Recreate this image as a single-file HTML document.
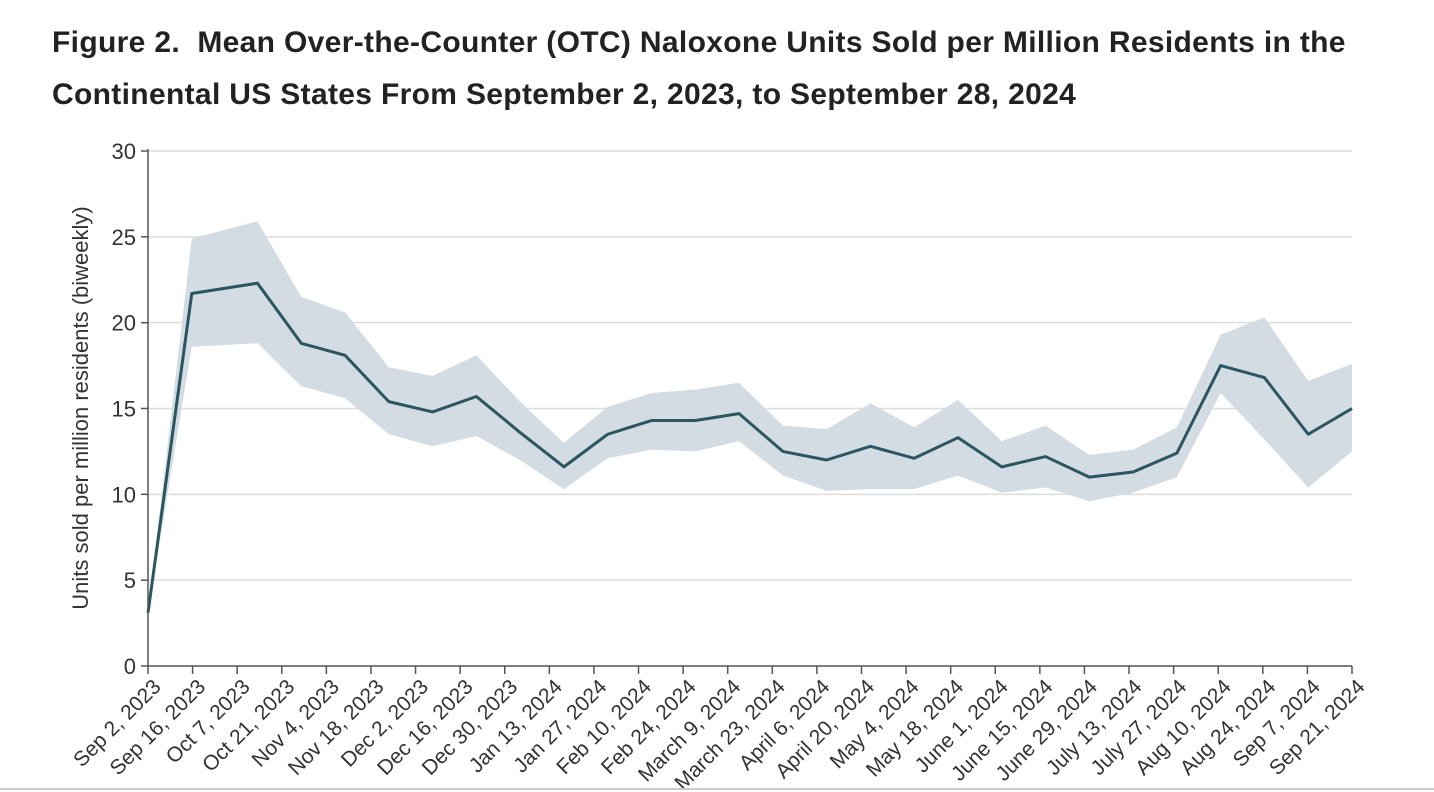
<!DOCTYPE html>
<html><head><meta charset="utf-8"><style>
body{margin:0;background:#fff;width:1434px;height:792px;overflow:hidden;font-family:"Liberation Sans",sans-serif}
h1{position:absolute;left:52px;top:17px;margin:0;font-size:30px;line-height:52px;font-weight:bold;color:#222;letter-spacing:0.33px;white-space:nowrap}
</style></head><body>
<h1>Figure 2.&nbsp; Mean Over-the-Counter (OTC) Naloxone Units Sold per Million Residents in the<br>Continental US States From September 2, 2023, to September 28, 2024</h1>
<svg id="c" width="1434" height="792" style="position:absolute;left:0;top:0"></svg>
<script>
const tickLabels=["Sep 2, 2023","Sep 16, 2023","Oct 7, 2023","Oct 21, 2023","Nov 4, 2023","Nov 18, 2023","Dec 2, 2023","Dec 16, 2023","Dec 30, 2023","Jan 13, 2024","Jan 27, 2024","Feb 10, 2024","Feb 24, 2024","March 9, 2024","March 23, 2024","April 6, 2024","April 20, 2024","May 4, 2024","May 18, 2024","June 1, 2024","June 15, 2024","June 29, 2024","July 13, 2024","July 27, 2024","Aug 10, 2024","Aug 24, 2024","Sep 7, 2024","Sep 21, 2024"];
const days=[0,14,35,49,63,77,91,105,119,133,147,161,175,189,203,217,231,245,259,273,287,301,315,329,343,357,371,385];
const mean=[3.1,21.7,22.3,18.8,18.1,15.4,14.8,15.7,13.6,11.6,13.5,14.3,14.3,14.7,12.5,12.0,12.8,12.1,13.3,11.6,12.2,11.0,11.3,12.4,17.5,16.8,13.5,15.0];
const upper=[3.1,24.9,25.9,21.5,20.6,17.4,16.9,18.1,15.4,13.0,15.1,15.9,16.1,16.5,14.0,13.8,15.3,13.9,15.5,13.1,14.0,12.3,12.6,13.9,19.3,20.3,16.6,17.6];
const lower=[3.1,18.6,18.8,16.3,15.6,13.5,12.8,13.4,12.0,10.3,12.1,12.6,12.5,13.1,11.1,10.2,10.3,10.3,11.1,10.1,10.4,9.6,10.1,11.0,15.9,13.2,10.4,12.5];
const yTicks=[0,5,10,15,20,25,30];
const X0=148,X1=1352,Y0=666,Y1=151;
const xd=d=>X0+(X1-X0)*d/385;
const xi=i=>X0+(X1-X0)*i/(tickLabels.length-1);
const y=v=>Y0-(Y0-Y1)*v/30;
const s=document.getElementById('c');const NS='http://www.w3.org/2000/svg';
function mk(t,a){const e=document.createElementNS(NS,t);for(const k in a)e.setAttribute(k,a[k]);s.appendChild(e);return e;}
yTicks.forEach(v=>{
 if(v>0){const g=mk('line',{x1:X0,x2:X1,y1:y(v),y2:y(v),stroke:'#dcdcdc','stroke-width':1.5});
 
 }
 const t=mk('line',{x1:X0-7,x2:X0,y1:y(v),y2:y(v),stroke:'#555','stroke-width':1.5});
 
 
 const l=mk('text',{x:X0-12,y:y(v)+8,'text-anchor':'end','font-size':22,fill:'#333'});l.textContent=v;
 
 
});
let d='';days.forEach((dd,i)=>d+=(i?'L':'M')+xd(dd)+','+y(upper[i]));
for(let i=days.length-1;i>=0;i--)d+='L'+xd(days[i])+','+y(lower[i]);
const band=mk('path',{d:d+'Z',fill:'#d3dce3'});


let p='';days.forEach((dd,i)=>p+=(i?'L':'M')+xd(dd)+','+y(mean[i]));
const line=mk('path',{d:p,fill:'none',stroke:'#2b5560','stroke-width':3,'stroke-linejoin':'round'});


const ya=mk('line',{x1:X0,x2:X0,y1:Y1-2,y2:Y0,stroke:'#555','stroke-width':1.5});


const xa=mk('line',{x1:X0,x2:X1,y1:Y0,y2:Y0,stroke:'#555','stroke-width':1.5});


tickLabels.forEach((lab,i)=>{
 const x=xi(i);
 const t=mk('line',{x1:x,x2:x,y1:Y0,y2:Y0+8,stroke:'#555','stroke-width':1.5});
 
 
 const ax=x+14,ay=Y0+22;
 const l=mk('text',{x:ax,y:ay,'text-anchor':'end','font-size':21,fill:'#333',transform:`rotate(-45 ${ax} ${ay})`});l.textContent=lab;
 
 
});
const at=mk('text',{x:88,y:408,'text-anchor':'middle','font-size':22,fill:'#333',transform:'rotate(-90 88 408)'});at.textContent='Units sold per million residents (biweekly)';


const bl=mk('line',{x1:0,x2:1434,y1:789,y2:789,stroke:'#ccc','stroke-width':2});


</script>
</body></html>
